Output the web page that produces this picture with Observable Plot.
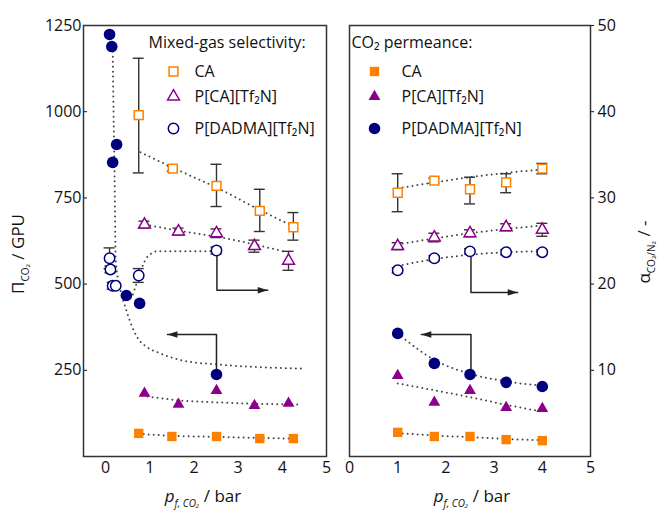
<!DOCTYPE html>
<html><head><meta charset="utf-8">
<script src="https://cdn.jsdelivr.net/npm/d3@7"></script>
<script src="https://cdn.jsdelivr.net/npm/@observablehq/plot@0.6"></script>
<style>
body{margin:0;background:#fff;}
#chart{position:relative;width:665px;height:515px;font-family:"Open Sans",sans-serif;}
#chart svg{position:absolute;top:0;overflow:visible;}
</style></head><body><div id="chart"></div>
<script>
// 1250 GPU on the left axis corresponds to a selectivity of 50 on the right axis
const K = 25;
const xTicks = [0, 1, 2, 3, 4, 5];
const gpuTicks = [250, 500, 750, 1000, 1250];
const alphaTicks = [10, 20, 30, 40, 50];
const seriesNames = ["CA", "P[CA][Tf₂N]", "P[DADMA][Tf₂N]"];
const colors = ["#ff8000", "#8b008b", "#00007f"];
const symbols = ["square", "triangle", "circle"];

// ---------- Left panel ----------
// mixed-gas selectivity (open symbols, right axis)
const L_CA_sel_x = [0.75, 1.52, 2.51, 3.49, 4.25];
const L_CA_sel_y = [39.6, 33.4, 31.4, 28.5, 26.6];
const L_CA_sel_lo = [32.9, 33.1, 29.0, 26.1, 25.1];
const L_CA_sel_hi = [46.2, 33.7, 33.9, 31.0, 28.3];
const L_PCA_sel_x = [0.88, 1.65, 2.51, 3.37, 4.14];
const L_PCA_sel_y = [26.9, 26.1, 25.9, 24.4, 22.7];
const L_PCA_sel_err = [0.4, 0.4, 0.5, 0.7, 1.1];
const L_DAD_sel_x = [0.09, 0.11, 0.16, 0.23, 0.75, 2.51];
const L_DAD_sel_y = [23.0, 21.7, 19.8, 19.8, 21.0, 23.9];
const L_DAD_sel_err = [1.2, 0.4, 0.4, 0.3, 0.8, 0.4];
// CO2 permeance (filled symbols, left axis, GPU)
const L_CA_perm_x = [0.75, 1.5, 2.51, 3.49, 4.25];
const L_CA_perm_y = [67, 58, 58, 52, 52];
const L_PCA_perm_x = [0.88, 1.65, 2.51, 3.37, 4.14];
const L_PCA_perm_y = [183, 151, 191, 148, 154];
const L_DAD_perm_x = [0.09, 0.14, 0.25, 0.16, 0.47, 0.77, 2.51];
const L_DAD_perm_y = [1224, 1189, 905, 853, 467, 444, 238];
// dotted trend curves
const L_CA_sel_fit_x = [0.79, 1.52, 2.51, 3.49, 4.25];
const L_CA_sel_fit_y = [35.3, 33.5, 31.2, 28.6, 26.7];
const L_PCA_sel_fit_x = [0.9, 1.65, 2.51, 3.37, 4.1];
const L_PCA_sel_fit_y = [26.9, 26.2, 25.5, 24.6, 23.7];
const L_DAD_sel_fit_x = [0.62, 0.75, 0.88, 0.97, 1.18, 1.6, 2.44];
const L_DAD_sel_fit_y = [18.8, 20.8, 22.6, 23.3, 23.8, 23.8, 23.8];
const L_DAD_perm_fit_x = [0.16, 0.18, 0.2, 0.23, 0.34, 0.45, 0.57, 0.72, 0.95, 1.24, 1.76, 2.53, 3.67, 4.48];
const L_DAD_perm_fit_y = [1189, 1000, 844, 568, 481, 432, 386, 345, 316, 299, 278, 267, 258, 255];
const L_PCA_perm_fit_x = [0.95, 1.65, 2.51, 3.37, 4.4];
const L_PCA_perm_fit_y = [174, 163, 157, 153, 151];
const L_CA_perm_fit_x = [0.75, 1.5, 2.51, 3.49, 4.25];
const L_CA_perm_fit_y = [66, 60, 57, 54, 52];
// axis-reading arrows (GPU units)
const L_arrowSel_x = [2.52, 2.52, 3.67];
const L_arrowSel_y = [590, 482, 482];
const L_arrowPerm_x = [2.51, 2.51, 1.40];
const L_arrowPerm_y = [238, 354, 354];

// ---------- Right panel ----------
const R_x = [1, 1.76, 2.5, 3.25, 4];
const R_CA_sel_y = [30.6, 32.0, 31.0, 31.8, 33.4];
const R_CA_sel_lo = [28.4, 31.7, 29.3, 30.6, 32.8];
const R_CA_sel_hi = [32.8, 32.3, 32.4, 32.8, 34.0];
const R_PCA_sel_y = [24.4, 25.4, 25.9, 26.6, 26.3];
const R_PCA_sel_err = [0.4, 0.5, 0.4, 0.4, 0.75];
const R_DAD_sel_y = [21.6, 23.0, 23.8, 23.7, 23.7];
const R_DAD_sel_err = [0.3, 0.3, 0.3, 0.3, 0.3];
const R_CA_perm_y = [70, 58, 58, 49, 46];
const R_PCA_perm_y = [235, 157, 191, 142, 139];
const R_DAD_perm_y = [357, 270, 238, 215, 203];
const R_CA_sel_fit_y = [31.1, 31.8, 32.4, 32.9, 33.3];
const R_PCA_sel_fit_y = [24.6, 25.3, 25.9, 26.4, 26.8];
const R_DAD_sel_fit_y = [22.1, 22.9, 23.4, 23.7, 23.8];
const R_CA_perm_fit_y = [68, 61, 56, 51, 47];
const R_PCA_perm_fit_y = [212, 192, 172, 150, 130];
const R_DAD_perm_fit_y = [357, 280, 240, 218, 205];
const R_arrowSel_x = [2.52, 2.52, 3.49];
const R_arrowSel_y = [595, 476, 476];
const R_arrowPerm_x = [2.52, 2.52, 1.49];
const R_arrowPerm_y = [238, 354, 354];

// ---------- helpers ----------
const zip = (xs, ys, f = 1) => xs.map((x, i) => ({x, y: ys[i] * f}));
const errs = (xs, ys, lo, hi) => xs.map((x, i) => ({x, lo: lo[i] * K, hi: hi[i] * K}));
const errsPm = (xs, ys, e) => xs.map((x, i) => ({x, lo: (ys[i] - e[i]) * K, hi: (ys[i] + e[i]) * K}));
const symR = {square: 5.3, triangle: 4.4, circle: 5.8};
const openR = {square: 5.0, triangle: 4.4, circle: 5.2};
const headRight = {draw(ctx) { ctx.moveTo(5, 0); ctx.lineTo(-5, -3.2); ctx.lineTo(-5, 3.2); ctx.closePath(); }};
const dotted = {stroke: "#444", strokeWidth: 2, strokeDasharray: "0,5", strokeLinecap: "round", curve: "monotone-x"};

function errMarks(data) {
  return [
    Plot.ruleX(data, {x: "x", y1: "lo", y2: "hi", stroke: "#333", strokeWidth: 1.4}),
    Plot.ruleY(data, {y: "lo", x1: "x", x2: "x", insetLeft: -5.5, insetRight: -5.5, stroke: "#333", strokeWidth: 1.4}),
    Plot.ruleY(data, {y: "hi", x1: "x", x2: "x", insetLeft: -5.5, insetRight: -5.5, stroke: "#333", strokeWidth: 1.4})
  ];
}
function arrowMarks(xs, ys) {
  const pts = zip(xs, ys);
  const tip = pts[pts.length - 1];
  const right = tip.x > pts[1].x;
  return [
    Plot.line(pts, {x: "x", y: "y", stroke: "#222", strokeWidth: 1.5}),
    Plot.dot([tip], {x: "x", y: "y", symbol: headRight, r: 4, rotate: right ? 0 : 180, dx: right ? -5 : 5, fill: "#222", stroke: "none"})
  ];
}
function openDots(data, i) {
  return Plot.dot(data, {x: "x", y: "y", symbol: symbols[i], r: openR[symbols[i]], stroke: colors[i], strokeWidth: 1.5, fill: "white"});
}
function filledDots(data, i) {
  return Plot.dot(data, {x: "x", y: "y", symbol: symbols[i], r: symR[symbols[i]], fill: colors[i], stroke: "none"});
}
function legend(title, dx0, dxSym, dxText, filled) {
  const dys = [46, 71, 103];
  const m = [Plot.text([title], {frameAnchor: "top-left", dx: dx0, dy: 17, textAnchor: "start", lineAnchor: "middle", fontSize: 16, fill: "#111"})];
  seriesNames.forEach((name, i) => {
    m.push(Plot.dot([0], filled
      ? {frameAnchor: "top-left", dx: dxSym, dy: dys[i], symbol: symbols[i], r: symR[symbols[i]], fill: colors[i], stroke: "none"}
      : {frameAnchor: "top-left", dx: dxSym, dy: dys[i], symbol: symbols[i], r: openR[symbols[i]], stroke: colors[i], strokeWidth: 1.5, fill: "white"}));
    m.push(Plot.text([name], {frameAnchor: "top-left", dx: dxText, dy: dys[i], textAnchor: "start", lineAnchor: "middle", fontSize: 16, fill: "#111"}));
  });
  return m;
}
const style = {fontFamily: "'Open Sans', sans-serif", fontSize: "16px", color: "#111", background: "none", overflow: "visible"};

const left = Plot.plot({
  width: 345, height: 515, marginLeft: 83, marginRight: 19, marginTop: 25, marginBottom: 59,
  style,
  x: {domain: [-0.5, 5]},
  y: {domain: [0, 1250]},
  marks: [
    Plot.axisX({ticks: xTicks, tickSize: 0, tickPadding: 5, tickFormat: d => String(d), fontSize: 16, label: null}),
    Plot.axisY({ticks: gpuTicks, tickSize: -4, tickPadding: 6, tickFormat: d => String(d), fontSize: 16, label: null}),
    Plot.line(zip(L_CA_sel_fit_x, L_CA_sel_fit_y, K), {x: "x", y: "y", ...dotted}),
    Plot.line(zip(L_PCA_sel_fit_x, L_PCA_sel_fit_y, K), {x: "x", y: "y", ...dotted}),
    Plot.line(zip(L_DAD_sel_fit_x, L_DAD_sel_fit_y, K), {x: "x", y: "y", ...dotted}),
    Plot.line(zip(L_DAD_perm_fit_x, L_DAD_perm_fit_y), {x: "x", y: "y", ...dotted}),
    Plot.line(zip(L_PCA_perm_fit_x, L_PCA_perm_fit_y), {x: "x", y: "y", ...dotted}),
    Plot.line(zip(L_CA_perm_fit_x, L_CA_perm_fit_y), {x: "x", y: "y", ...dotted}),
    ...arrowMarks(L_arrowSel_x, L_arrowSel_y),
    ...arrowMarks(L_arrowPerm_x, L_arrowPerm_y),
    ...errMarks(errs(L_CA_sel_x, L_CA_sel_y, L_CA_sel_lo, L_CA_sel_hi)),
    ...errMarks(errsPm(L_PCA_sel_x, L_PCA_sel_y, L_PCA_sel_err)),
    ...errMarks(errsPm(L_DAD_sel_x, L_DAD_sel_y, L_DAD_sel_err)),
    openDots(zip(L_CA_sel_x, L_CA_sel_y, K), 0),
    openDots(zip(L_PCA_sel_x, L_PCA_sel_y, K), 1),
    openDots(zip(L_DAD_sel_x, L_DAD_sel_y, K), 2),
    filledDots(zip(L_CA_perm_x, L_CA_perm_y), 0),
    filledDots(zip(L_PCA_perm_x, L_PCA_perm_y), 1),
    filledDots(zip(L_DAD_perm_x, L_DAD_perm_y), 2),
    ...legend("Mixed-gas selectivity:", 65, 90, 111, false),
    Plot.frame({stroke: "#333", strokeWidth: 1.5})
  ]
});

const right = Plot.plot({
  width: 335, height: 515, marginLeft: 19, marginRight: 75, marginTop: 25, marginBottom: 59,
  style,
  x: {domain: [0, 5]},
  y: {domain: [0, 1250]},
  marks: [
    Plot.axisX({ticks: xTicks, tickSize: 0, tickPadding: 5, tickFormat: d => String(d), fontSize: 16, label: null}),
    Plot.axisY({anchor: "right", ticks: alphaTicks.map(a => a * K), tickSize: 3, tickPadding: 4, tickFormat: d => String(d / K), fontSize: 16, label: null}),
    Plot.line(zip(R_x, R_CA_sel_fit_y, K), {x: "x", y: "y", ...dotted}),
    Plot.line(zip(R_x, R_PCA_sel_fit_y, K), {x: "x", y: "y", ...dotted}),
    Plot.line(zip(R_x, R_DAD_sel_fit_y, K), {x: "x", y: "y", ...dotted}),
    Plot.line(zip(R_x, R_CA_perm_fit_y), {x: "x", y: "y", ...dotted}),
    Plot.line(zip(R_x, R_PCA_perm_fit_y), {x: "x", y: "y", ...dotted}),
    Plot.line(zip(R_x, R_DAD_perm_fit_y), {x: "x", y: "y", ...dotted}),
    ...arrowMarks(R_arrowSel_x, R_arrowSel_y),
    ...arrowMarks(R_arrowPerm_x, R_arrowPerm_y),
    ...errMarks(errs(R_x, R_CA_sel_y, R_CA_sel_lo, R_CA_sel_hi)),
    ...errMarks(errsPm(R_x, R_PCA_sel_y, R_PCA_sel_err)),
    ...errMarks(errsPm(R_x, R_DAD_sel_y, R_DAD_sel_err)),
    openDots(zip(R_x, R_CA_sel_y, K), 0),
    openDots(zip(R_x, R_PCA_sel_y, K), 1),
    openDots(zip(R_x, R_DAD_sel_y, K), 2),
    filledDots(zip(R_x, R_CA_perm_y), 0),
    filledDots(zip(R_x, R_PCA_perm_y), 1),
    filledDots(zip(R_x, R_DAD_perm_y), 2),
    ...legend("CO₂ permeance:", 2, 25, 52, true),
    Plot.frame({stroke: "#333", strokeWidth: 1.5})
  ]
});

const chart = document.getElementById("chart");
left.style.left = "0px";
right.style.left = "330px";
chart.append(left, right);

// axis titles with subscripts
function label(svg, x, y, rotate, parts) {
  const t = d3.select(svg).append("text")
    .attr("transform", `translate(${x},${y}) rotate(${rotate})`)
    .attr("text-anchor", "middle")
    .attr("font-family", "'Open Sans', sans-serif")
    .attr("font-size", 17).attr("fill", "#111");
  parts.forEach(p => {
    const s = t.append("tspan").text(p.t);
    if (p.sub) s.attr("font-size", 10).attr("dy", 5);
    if (p.back) s.attr("dy", -5);
    if (p.italic) s.attr("font-style", "italic");
  });
}
label(left, 24, 254, -90, [{t: "Π"}, {t: "CO₂", sub: true}, {t: " / GPU", back: true}]);
label(left, 203, 502, 0, [{t: "p", italic: true}, {t: "f, CO₂", sub: true, italic: true}, {t: " / bar", back: true}]);
label(right, 142, 502, 0, [{t: "p", italic: true}, {t: "f, CO₂", sub: true, italic: true}, {t: " / bar", back: true}]);
label(right, 320, 252, -90, [{t: "α"}, {t: "CO₂/N₂", sub: true}, {t: " / -", back: true}]);
</script></body></html>
